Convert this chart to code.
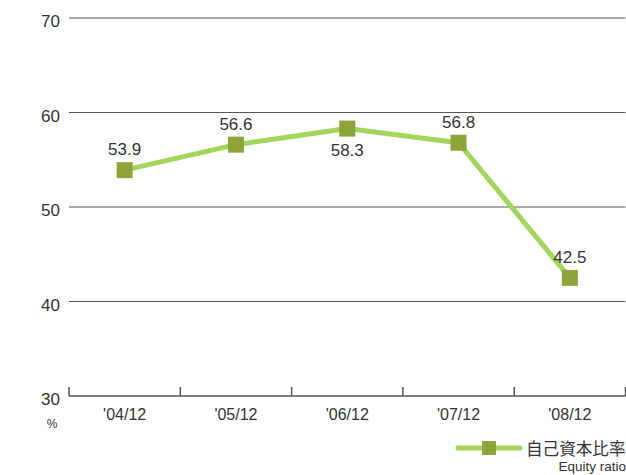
<!DOCTYPE html>
<html>
<head>
<meta charset="utf-8">
<script src="https://cdn.jsdelivr.net/npm/d3@7"></script>
<style>
  body { margin: 0; background: #fff; }
  text { font-family: "Liberation Sans", Arial, sans-serif; fill: #333; }
</style>
</head>
<body>
<div id="chart"></div>
<script>
var categories = ["'04/12", "'05/12", "'06/12", "'07/12", "'08/12"];
var equityRatio = [53.9, 56.6, 58.3, 56.8, 42.5];
var labelBelow = [false, false, true, false, false];
var yTicks = [30, 40, 50, 60, 70];

var w = 626;
var h = 475;
var plotLeft = 69;
var plotRight = 625.5;
var plotTop = 18;
var plotBottom = 396;

var svg = d3
  .select("#chart")
  .append("svg")
  .attr("width", w)
  .attr("height", h);

var xScale = d3
  .scaleBand()
  .domain(categories)
  .range([plotLeft, plotRight]);

var yScale = d3
  .scaleLinear()
  .domain([30, 70])
  .range([plotBottom, plotTop]);

// grid lines
svg
  .selectAll(".grid")
  .data(yTicks.slice(1))
  .enter()
  .append("line")
  .attr("x1", plotLeft)
  .attr("x2", plotRight)
  .attr("y1", function (d) { return yScale(d); })
  .attr("y2", function (d) { return yScale(d); })
  .attr("stroke", "#555")
  .attr("stroke-width", 1);

// y labels
svg
  .selectAll(".ylab")
  .data(yTicks)
  .enter()
  .append("text")
  .attr("x", 60)
  .attr("y", function (d) { return yScale(d); })
  .attr("dy", "0.55em")
  .attr("text-anchor", "end")
  .style("font-size", "17px")
  .text(function (d) { return d; });

svg
  .append("text")
  .attr("x", 52)
  .attr("y", 428)
  .attr("text-anchor", "middle")
  .style("font-size", "12px")
  .text("%");

// x axis
var xAxis = svg.append("g").attr("transform", "translate(0," + plotBottom + ")");
xAxis
  .append("line")
  .attr("x1", plotLeft)
  .attr("x2", plotRight)
  .attr("stroke", "#555")
  .attr("stroke-width", 1.5);

var tickPos = categories.map(function (c) { return xScale(c); });
tickPos.push(xScale(categories[categories.length - 1]) + xScale.bandwidth());
xAxis
  .selectAll(".tick")
  .data(tickPos)
  .enter()
  .append("line")
  .attr("x1", function (d) { return d; })
  .attr("x2", function (d) { return d; })
  .attr("y1", -9)
  .attr("y2", 0)
  .attr("stroke", "#555")
  .attr("stroke-width", 1.5);

xAxis
  .selectAll(".xlab")
  .data(categories)
  .enter()
  .append("text")
  .attr("x", function (d) { return xScale(d) + xScale.bandwidth() / 2; })
  .attr("y", 24)
  .attr("text-anchor", "middle")
  .style("font-size", "16px")
  .text(function (d) { return d; });

// line
var pts = categories.map(function (c, i) {
  return { cat: c, v: equityRatio[i], below: labelBelow[i] };
});
var line = d3
  .line()
  .x(function (d) { return xScale(d.cat) + xScale.bandwidth() / 2; })
  .y(function (d) { return yScale(d.v); });

svg
  .append("path")
  .datum(pts)
  .attr("d", line)
  .attr("fill", "none")
  .attr("stroke", "#a2d65a")
  .attr("stroke-width", 5)
  .attr("stroke-linejoin", "round");

var ms = 16;
svg
  .selectAll(".marker")
  .data(pts)
  .enter()
  .append("rect")
  .attr("x", function (d) { return xScale(d.cat) + xScale.bandwidth() / 2 - ms / 2; })
  .attr("y", function (d) { return yScale(d.v) - ms / 2; })
  .attr("width", ms)
  .attr("height", ms)
  .attr("fill", "#8ea43a");

svg
  .selectAll(".vlab")
  .data(pts)
  .enter()
  .append("text")
  .attr("x", function (d) { return xScale(d.cat) + xScale.bandwidth() / 2; })
  .attr("y", function (d) { return yScale(d.v) + (d.below ? 27 : -15); })
  .attr("text-anchor", "middle")
  .style("font-size", "17px")
  .text(function (d) { return d.v.toFixed(1); });

// legend
var lg = svg.append("g");
lg.append("line")
  .attr("x1", 458)
  .attr("x2", 520)
  .attr("y1", 448)
  .attr("y2", 448)
  .attr("stroke", "#a2d65a")
  .attr("stroke-width", 5)
  .attr("stroke-linecap", "round");
lg.append("rect")
  .attr("x", 482)
  .attr("y", 441)
  .attr("width", 14)
  .attr("height", 14)
  .attr("fill", "#8ea43a");
lg.append("text")
  .attr("x", 526)
  .attr("y", 455)
  .style("font-family", "'Noto Sans CJK JP', sans-serif")
  .style("font-size", "16.6px")
  .text("自己資本比率");
lg.append("text")
  .attr("x", 626)
  .attr("y", 471)
  .attr("text-anchor", "end")
  .style("font-size", "13.5px")
  .text("Equity ratio");
</script>
</body>
</html>
